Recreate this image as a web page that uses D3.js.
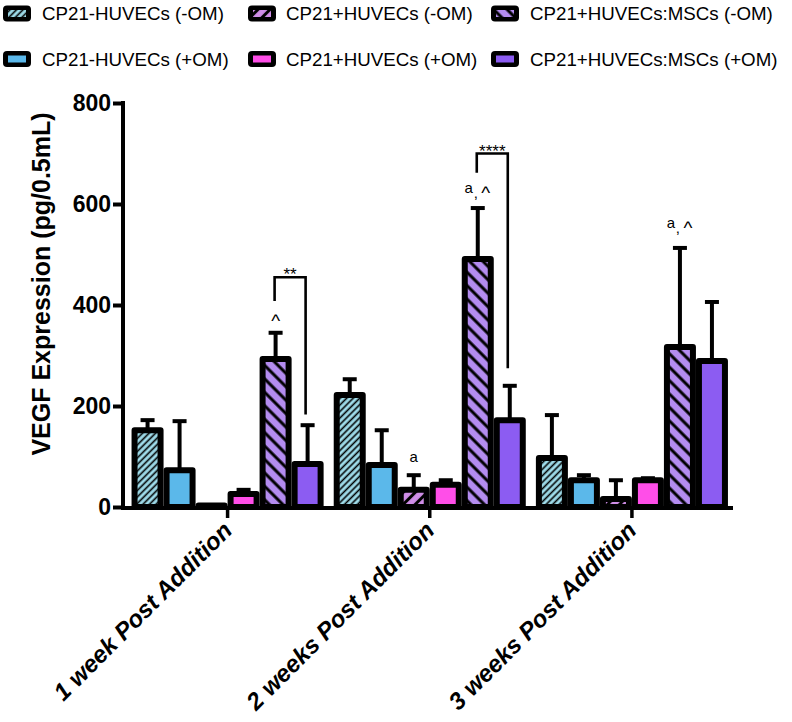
<!DOCTYPE html>
<html>
<head>
<meta charset="utf-8">
<script src="https://cdn.jsdelivr.net/npm/d3@7"></script>
<style>
  html, body { margin: 0; padding: 0; background: #fff; }
  svg { display: block; font-family: "Liberation Sans", Arial, sans-serif; }
</style>
</head>
<body>
<svg id="chart" width="792" height="722"></svg>
<script>
// ---------------- DATA ----------------
const groups = ["1 week Post Addition", "2 weeks Post Addition", "3 weeks Post Addition"];
const seriesNames = [
  "CP21-HUVECs (-OM)", "CP21-HUVECs (+OM)",
  "CP21+HUVECs (-OM)", "CP21+HUVECs (+OM)",
  "CP21+HUVECs:MSCs (-OM)", "CP21+HUVECs:MSCs (+OM)"
];
// mean values per series, one per group
const s1Values = [151, 221, 96];
const s2Values = [72, 82, 52];
const s3Values = [2, 33, 15];
const s4Values = [25, 43, 52];
const s5Values = [292, 490, 316];
const s6Values = [84, 171, 288];
// upper error (SEM) per series
const s1Err = [21, 32, 86];
const s2Err = [98, 70, 11];
const s3Err = [0, 30, 38];
const s4Err = [9, 10, 5];
const s5Err = [53, 102, 197];
const s6Err = [78, 69, 118];
const yTicks = [0, 200, 400, 600, 800];
const yTitle = "VEGF Expression (pg/0.5mL)";
// legend layout order (row 1: -OM, row 2: +OM)
const legendOrder = [0, 2, 4, 1, 3, 5];
// significance brackets: group, from series, to series, label, value levels (top, leftEnd, rightEnd)
const brackets = [
  {group: 0, from: 4, to: 5, label: "**",   top: 455, leftEnd: 408, rightEnd: 183},
  {group: 1, from: 4, to: 5, label: "****", top: 700, leftEnd: 662, rightEnd: 275}
];
// letter annotations: group, series, text, dx offset (px), value level of baseline
const marks = [
  {group: 0, series: 4, text: "^", dx: 0,  level: 357},
  {group: 1, series: 2, text: "a", dx: 0,  level: 89},
  {group: 1, series: 4, text: "a", dx: -9, level: 621},
  {group: 1, series: 4, text: ",", dx: -2, level: 611},
  {group: 1, series: 4, text: "^", dx: 8,  level: 609},
  {group: 2, series: 4, text: "a", dx: -9, level: 553},
  {group: 2, series: 4, text: ",", dx: -2, level: 542},
  {group: 2, series: 4, text: "^", dx: 8,  level: 540}
];

const allValues = [s1Values, s2Values, s3Values, s4Values, s5Values, s6Values];
const allErr = [s1Err, s2Err, s3Err, s4Err, s5Err, s6Err];
const fills = ["url(#hatch1)", "#5bb8ea", "url(#hatch3)", "#ff4ee8", "url(#hatch5)", "#8c5cf2"];

// ---------------- CHART ----------------
const svg = d3.select("#chart");
const defs = svg.append("defs");
function hatch(id, bg, spacing, lw, angle) {
  const p = defs.append("pattern").attr("id", id)
    .attr("patternUnits", "userSpaceOnUse")
    .attr("width", spacing).attr("height", spacing)
    .attr("patternTransform", `rotate(${angle})`);
  p.append("rect").attr("width", spacing).attr("height", spacing).attr("fill", bg);
  p.append("line").attr("x1", spacing / 2).attr("x2", spacing / 2)
    .attr("y1", 0).attr("y2", spacing)
    .attr("stroke", "#000").attr("stroke-width", lw);
}
hatch("hatch1", "#9fdcea", 4.6, 1.6, 45);
hatch("hatch3", "#d08ee8", 8.5, 3, 45);
hatch("hatch5", "#b48cf0", 9.5, 3, -45);

const y = d3.scaleLinear().domain([0, 800]).range([507, 103]);
const x0 = d3.scaleBand().domain(groups).range([126.5, 733]).paddingInner(0.05).paddingOuter(0.025);
const x1 = d3.scaleBand().domain(d3.range(seriesNames.length)).range([0, x0.bandwidth()]).padding(0);
const bw = x1.bandwidth();
const cx = (g, s) => x0(groups[g]) + x1(s) + bw / 2;

// error bars
const errData = [];
groups.forEach((g, gi) => seriesNames.forEach((s, si) => {
  errData.push({g: gi, s: si, v: allValues[si][gi], e: allErr[si][gi]});
}));
const eb = svg.append("g");
errData.filter(d => d.e > 0).forEach(d => {
  eb.append("line").attr("x1", cx(d.g, d.s)).attr("x2", cx(d.g, d.s))
    .attr("y1", y(d.v)).attr("y2", y(d.v + d.e))
    .attr("stroke", "#000").attr("stroke-width", 4);
  eb.append("line").attr("x1", cx(d.g, d.s) - 7).attr("x2", cx(d.g, d.s) + 7)
    .attr("y1", y(d.v + d.e)).attr("y2", y(d.v + d.e))
    .attr("stroke", "#000").attr("stroke-width", 4);
});

// bars
svg.append("g").selectAll("rect").data(errData).join("rect")
  .attr("x", d => x0(groups[d.g]) + x1(d.s) + 3)
  .attr("width", bw - 6)
  .attr("y", d => y(d.v) - 0.5)
  .attr("height", d => y(0) - y(d.v) + 0.5)
  .attr("fill", d => fills[d.s])
  .attr("stroke", "#000").attr("stroke-width", 6)
  .attr("stroke-linejoin", "round");

// axes
const yAxis = svg.append("g").attr("transform", "translate(123,0)")
  .call(d3.axisLeft(y).tickValues(yTicks).tickSize(10).tickSizeOuter(0));
yAxis.select(".domain").remove();
yAxis.selectAll(".tick line").attr("stroke", "#000").attr("stroke-width", 4);
yAxis.selectAll(".tick text").attr("x", -12).attr("font-size", 23).attr("font-weight", "bold")
  .attr("font-family", "Liberation Sans, Arial, sans-serif").attr("fill", "#000");

const xAxis = svg.append("g").attr("transform", "translate(0,508)")
  .call(d3.axisBottom(x0).tickSize(10).tickSizeOuter(0));
xAxis.select(".domain").remove();
xAxis.selectAll(".tick line").attr("stroke", "#000").attr("stroke-width", 3.5);
xAxis.selectAll(".tick text")
  .attr("y", 0).attr("dy", 0)
  .attr("transform", "translate(6,24) rotate(-45)")
  .attr("text-anchor", "end")
  .attr("font-size", 24).attr("font-weight", "bold").attr("font-style", "italic")
  .attr("font-family", "Liberation Sans, Arial, sans-serif").attr("fill", "#000");

svg.append("line").attr("x1", 123).attr("x2", 123).attr("y1", 101).attr("y2", 510)
  .attr("stroke", "#000").attr("stroke-width", 4);
svg.append("line").attr("x1", 121).attr("x2", 733).attr("y1", 508).attr("y2", 508)
  .attr("stroke", "#000").attr("stroke-width", 4);

svg.append("text").attr("transform", "translate(50,284) rotate(-90)")
  .attr("text-anchor", "middle").attr("font-size", 25).attr("font-weight", "bold")
  .text(yTitle);

// brackets
brackets.forEach(b => {
  const xl = cx(b.group, b.from) - 1, xr = cx(b.group, b.to) - 2;
  svg.append("path")
    .attr("d", `M${xl},${y(b.leftEnd)}V${y(b.top)}H${xr}V${y(b.rightEnd)}`)
    .attr("fill", "none").attr("stroke", "#000").attr("stroke-width", 2.6);
  svg.append("text").attr("x", (xl + xr) / 2).attr("y", y(b.top) + 3)
    .attr("text-anchor", "middle").attr("font-size", 17).text(b.label);
});

// letters
marks.forEach(m => {
  svg.append("text").attr("x", cx(m.group, m.series) + m.dx).attr("y", y(m.level))
    .attr("text-anchor", "middle").attr("font-size", m.text === "^" ? 19 : 15)
    .text(m.text);
});

// legend
const legX = [3, 248, 491];
const legTextX = [42, 286, 530];
const legY = [13.5, 59];
const leg = svg.append("g");
legendOrder.forEach((si, i) => {
  const col = i % 3, row = Math.floor(i / 3);
  const g = leg.append("g").attr("transform", `translate(${legX[col]},${legY[row]})`);
  g.append("rect").attr("x", 0).attr("y", -8).attr("width", 28).attr("height", 16)
    .attr("rx", 4).attr("fill", "#000");
  g.append("rect").attr("x", 5).attr("y", -3.5).attr("width", 18).attr("height", 7)
    .attr("fill", fills[si]);
  leg.append("text")
    .attr("transform", `translate(${legTextX[col]},${legY[row] + 6.5}) scale(1.07,1)`)
    .attr("font-size", 17.5).attr("fill", "#000").text(seriesNames[si]);
});
</script>
</body>
</html>
